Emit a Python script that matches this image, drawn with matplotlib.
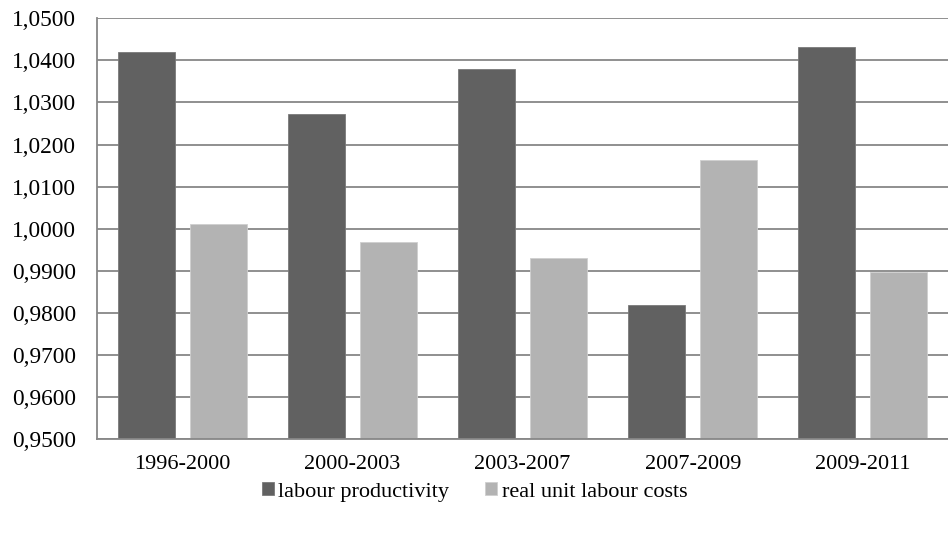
import numpy as np
import matplotlib.pyplot as plt
from matplotlib.ticker import FuncFormatter, MultipleLocator

plt.rcParams['font.family'] = ['Liberation Serif', 'DejaVu Serif']

periods = ['1996-2000', '2000-2003', '2003-2007', '2007-2009', '2009-2011']
labour_productivity = [1.0421, 1.0272, 1.0379, 0.9819, 1.0431]
real_unit_labour_costs = [1.0011, 0.9969, 0.9930, 1.0163, 0.9897]

dark = '#616161'
light = '#b3b3b3'
grid = '#878787'

fig = plt.figure(figsize=(9.48, 5.34), dpi=100)
ax = fig.add_axes([0.1023, 0.178, 0.8977, 0.7877])

x = np.arange(len(periods))
w = 0.335
off = 0.2115
ax.bar(x - off, labour_productivity, w, color=dark, edgecolor='#7a7a7a',
       linewidth=0.6, label='labour productivity', zorder=3)
ax.bar(x + off, real_unit_labour_costs, w, color=light, edgecolor='#cfcfcf',
       linewidth=0.6, label='real unit labour costs', zorder=3)

ax.set_xlim(-0.5, len(periods) - 0.5)
ax.set_ylim(0.95, 1.05)
ax.yaxis.set_major_locator(MultipleLocator(0.01))
ax.yaxis.set_major_formatter(FuncFormatter(lambda v, p: f'{v:.4f}'.replace('.', ',')))
ax.set_xticks(x)
ax.set_xticklabels(periods)

ax.grid(axis='y', color=grid, linewidth=1.3, zorder=0)
ax.set_axisbelow(True)
for s in ['top', 'right']:
    ax.spines[s].set_visible(False)
for s in ['left', 'bottom']:
    ax.spines[s].set_color(grid)
    ax.spines[s].set_linewidth(1.3)
    ax.spines[s].set_zorder(4)

ax.tick_params(axis='y', length=0, pad=15, labelsize=16.8)
ax.tick_params(axis='x', length=0, pad=11.5, labelsize=16)

fig.legend(loc='center', bbox_to_anchor=(0.5005, 0.079), ncol=2, frameon=False,
           fontsize=16, handlelength=0.55, handleheight=0.55,
           handletextpad=0.2, columnspacing=1.6)

fig.savefig('out.png', dpi=100)
